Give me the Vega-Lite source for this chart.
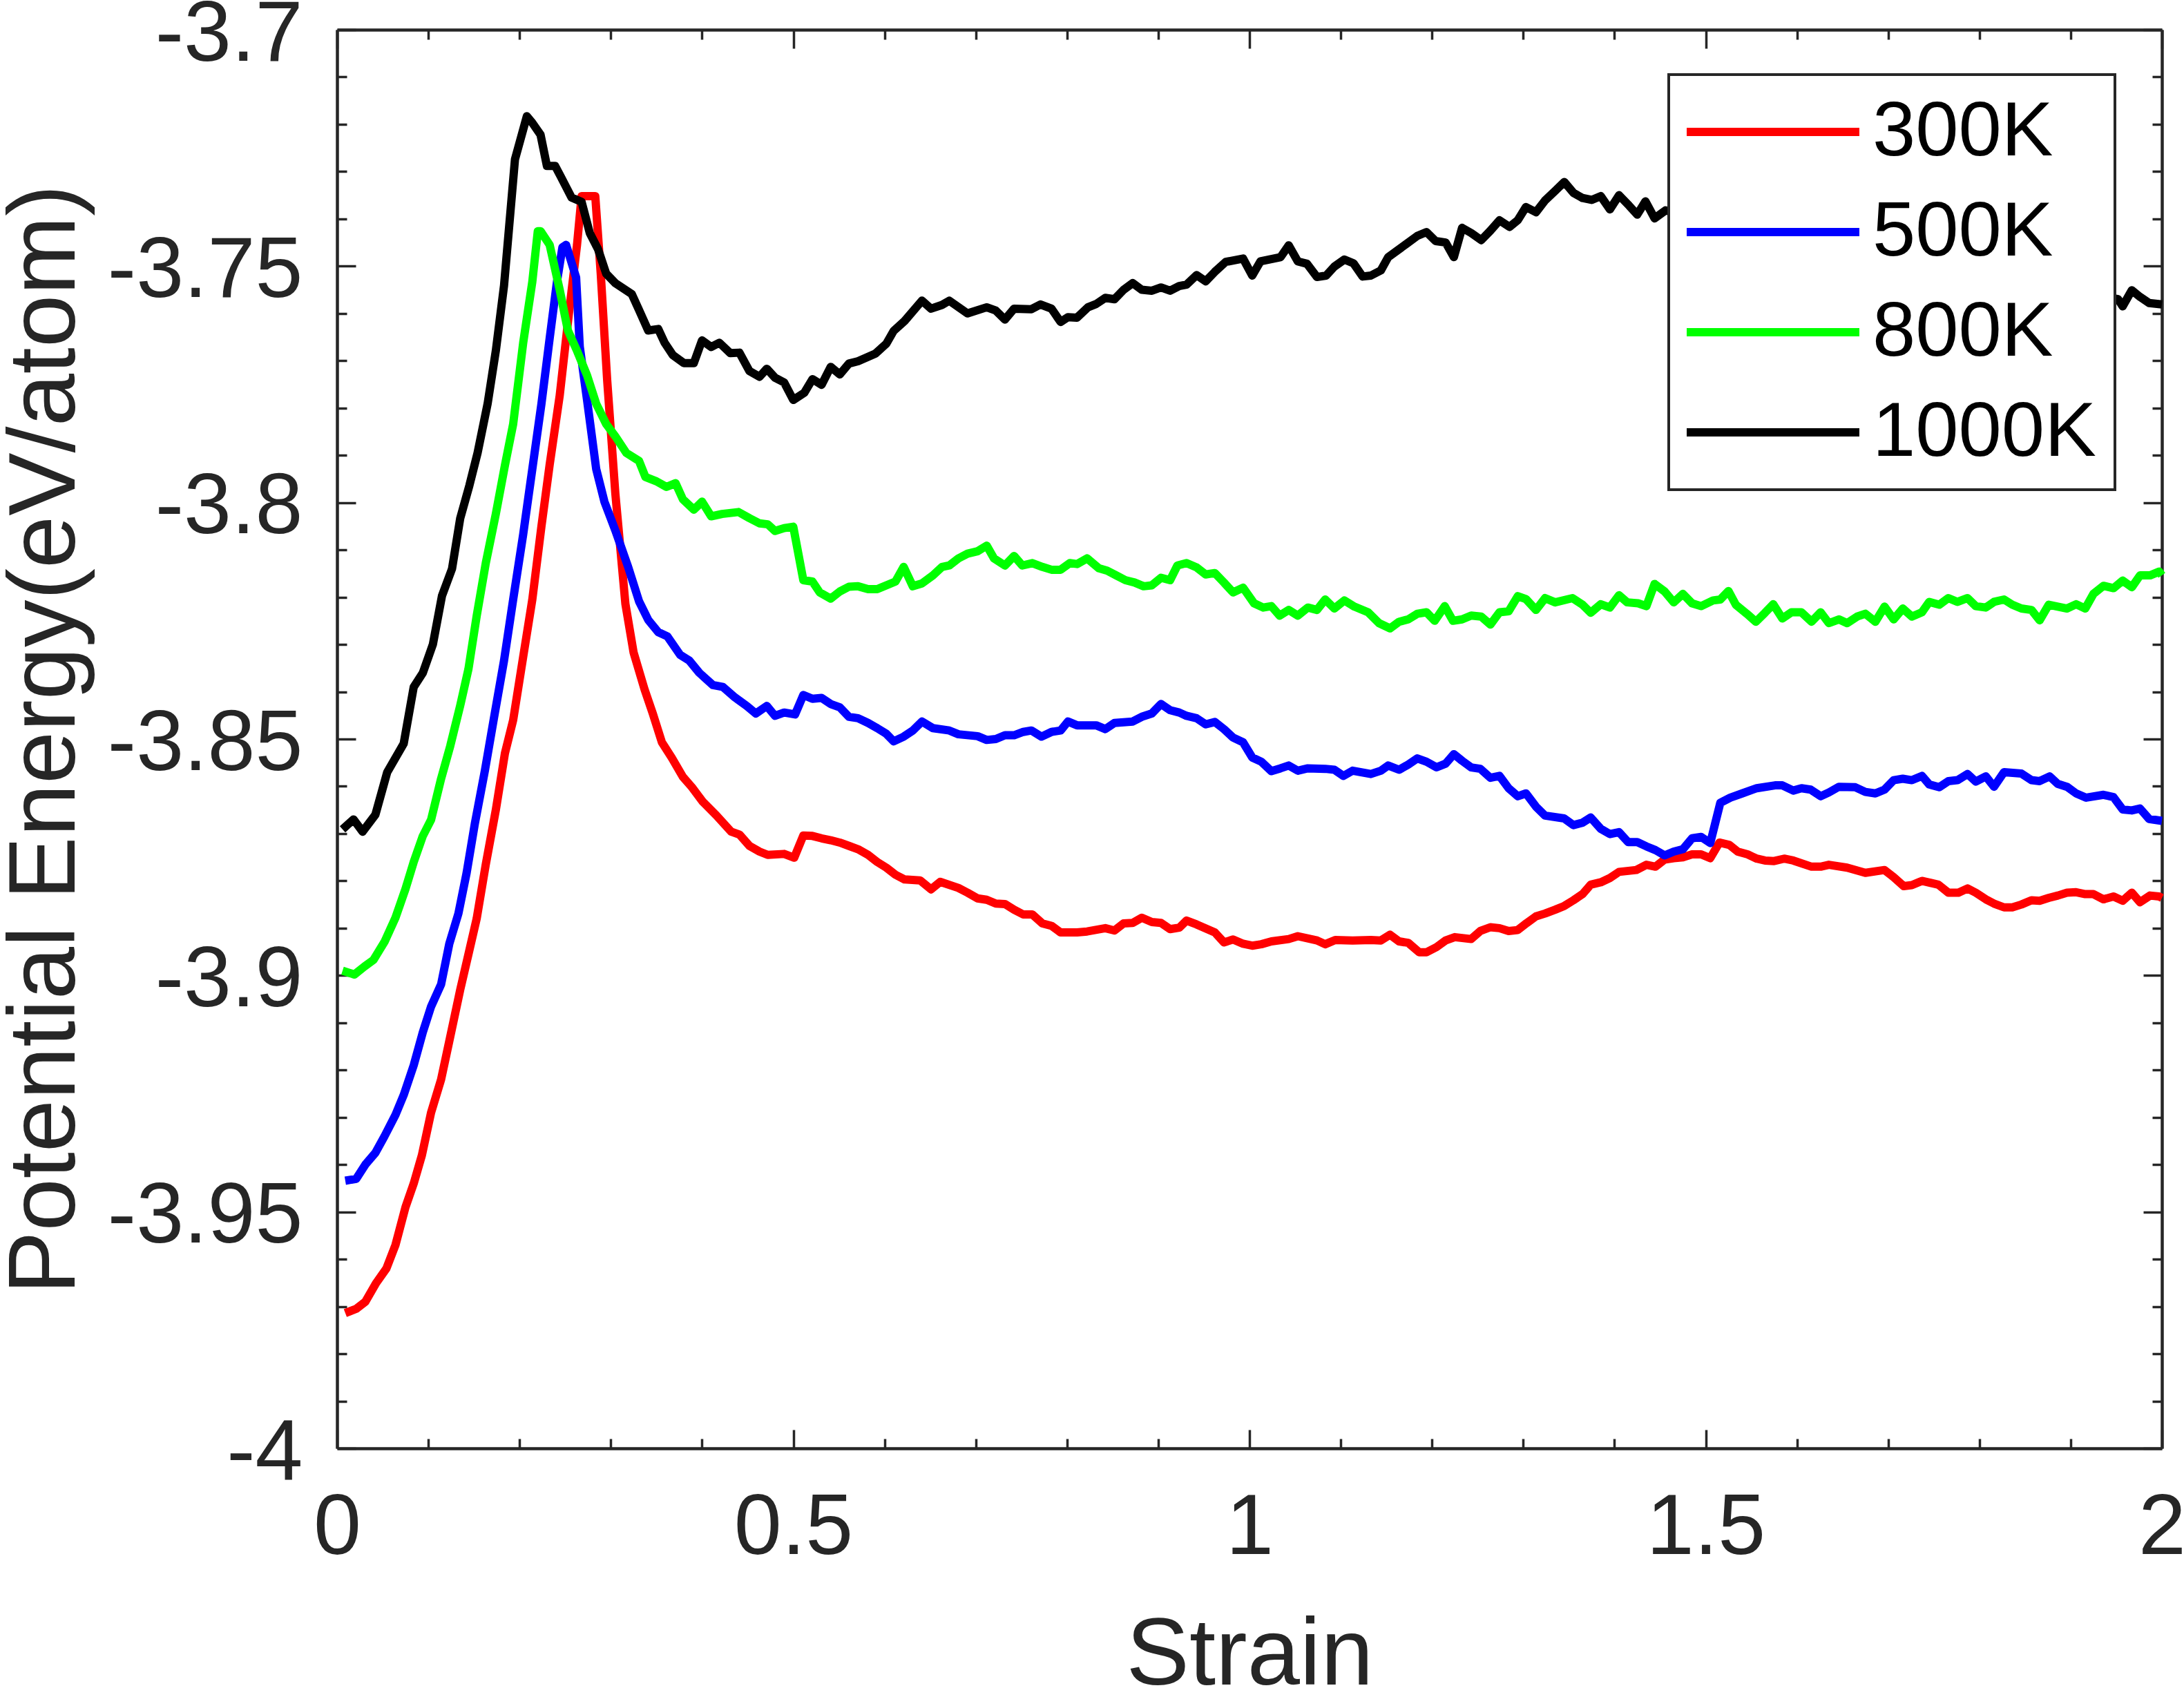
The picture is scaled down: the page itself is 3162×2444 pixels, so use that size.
{
  "$schema": "https://vega.github.io/schema/vega-lite/v6.json",
  "width": 2642,
  "height": 2054,
  "autosize": {"type": "none"},
  "padding": {"left": 488, "top": 43, "right": 32, "bottom": 347},
  "background": "white",
  "config": {
    "view": {"stroke": null},
    "font": "Liberation Sans",
    "axis": {
      "grid": false,
      "domainColor": "#262626",
      "domainWidth": 4.5,
      "tickColor": "#262626",
      "tickWidth": 3.5,
      "labelColor": "#262626",
      "titleColor": "#262626",
      "labelFont": "Liberation Sans",
      "titleFont": "Liberation Sans",
      "labelFontSize": 124,
      "titleFontSize": 137,
      "titleFontWeight": "normal",
      "labelFlush": false,
      "labelOverlap": false,
      "labelLimit": 1000,
      "titleLimit": 3000
    },
    "legend": {"strokeWidth": 4}
  },
  "data": {"values": [
    {"temp":"300K","strain":0.009,"energy":-3.9714},{"temp":"300K","strain":0.021,"energy":-3.9705},{"temp":"300K","strain":0.031,"energy":-3.969},{"temp":"300K","strain":0.043,"energy":-3.965},{"temp":"300K","strain":0.054,"energy":-3.962},{"temp":"300K","strain":0.064,"energy":-3.957},{"temp":"300K","strain":0.075,"energy":-3.949},{"temp":"300K","strain":0.084,"energy":-3.944},{"temp":"300K","strain":0.093,"energy":-3.938},{"temp":"300K","strain":0.103,"energy":-3.929},{"temp":"300K","strain":0.114,"energy":-3.922},{"temp":"300K","strain":0.124,"energy":-3.913},{"temp":"300K","strain":0.135,"energy":-3.903},{"temp":"300K","strain":0.144,"energy":-3.8955},{"temp":"300K","strain":0.153,"energy":-3.888},{"temp":"300K","strain":0.163,"energy":-3.8765},{"temp":"300K","strain":0.174,"energy":-3.865},{"temp":"300K","strain":0.184,"energy":-3.853},{"temp":"300K","strain":0.193,"energy":-3.846},{"temp":"300K","strain":0.204,"energy":-3.8326},{"temp":"300K","strain":0.214,"energy":-3.8205},{"temp":"300K","strain":0.224,"energy":-3.805},{"temp":"300K","strain":0.233,"energy":-3.792},{"temp":"300K","strain":0.244,"energy":-3.7774},{"temp":"300K","strain":0.254,"energy":-3.7602},{"temp":"300K","strain":0.263,"energy":-3.7455},{"temp":"300K","strain":0.268,"energy":-3.7352},{"temp":"300K","strain":0.283,"energy":-3.7352},{"temp":"300K","strain":0.289,"energy":-3.7516},{"temp":"300K","strain":0.296,"energy":-3.774},{"temp":"300K","strain":0.305,"energy":-3.7981},{"temp":"300K","strain":0.316,"energy":-3.8214},{"temp":"300K","strain":0.325,"energy":-3.8317},{"temp":"300K","strain":0.337,"energy":-3.8395},{"temp":"300K","strain":0.346,"energy":-3.8446},{"temp":"300K","strain":0.356,"energy":-3.8507},{"temp":"300K","strain":0.367,"energy":-3.854},{"temp":"300K","strain":0.379,"energy":-3.858},{"temp":"300K","strain":0.389,"energy":-3.8602},{"temp":"300K","strain":0.401,"energy":-3.8633},{"temp":"300K","strain":0.416,"energy":-3.8662},{"temp":"300K","strain":0.432,"energy":-3.8696},{"temp":"300K","strain":0.441,"energy":-3.8702},{"temp":"300K","strain":0.452,"energy":-3.8726},{"temp":"300K","strain":0.463,"energy":-3.8738},{"temp":"300K","strain":0.472,"energy":-3.8745},{"temp":"300K","strain":0.49,"energy":-3.8743},{"temp":"300K","strain":0.501,"energy":-3.8751},{"temp":"300K","strain":0.511,"energy":-3.8704},{"temp":"300K","strain":0.521,"energy":-3.8705},{"temp":"300K","strain":0.531,"energy":-3.871},{"temp":"300K","strain":0.541,"energy":-3.8714},{"temp":"300K","strain":0.551,"energy":-3.8719},{"temp":"300K","strain":0.561,"energy":-3.8726},{"temp":"300K","strain":0.571,"energy":-3.8733},{"temp":"300K","strain":0.582,"energy":-3.8745},{"temp":"300K","strain":0.592,"energy":-3.876},{"temp":"300K","strain":0.602,"energy":-3.8772},{"temp":"300K","strain":0.612,"energy":-3.8787},{"temp":"300K","strain":0.622,"energy":-3.8797},{"temp":"300K","strain":0.639,"energy":-3.8799},{"temp":"300K","strain":0.651,"energy":-3.8818},{"temp":"300K","strain":0.661,"energy":-3.8802},{"temp":"300K","strain":0.681,"energy":-3.8815},{"temp":"300K","strain":0.691,"energy":-3.8825},{"temp":"300K","strain":0.702,"energy":-3.8837},{"temp":"300K","strain":0.712,"energy":-3.884},{"temp":"300K","strain":0.722,"energy":-3.8848},{"temp":"300K","strain":0.732,"energy":-3.8849},{"temp":"300K","strain":0.742,"energy":-3.8861},{"temp":"300K","strain":0.752,"energy":-3.8871},{"temp":"300K","strain":0.762,"energy":-3.8871},{"temp":"300K","strain":0.773,"energy":-3.889},{"temp":"300K","strain":0.783,"energy":-3.8895},{"temp":"300K","strain":0.793,"energy":-3.8909},{"temp":"300K","strain":0.811,"energy":-3.8909},{"temp":"300K","strain":0.822,"energy":-3.8907},{"temp":"300K","strain":0.842,"energy":-3.89},{"temp":"300K","strain":0.852,"energy":-3.8905},{"temp":"300K","strain":0.862,"energy":-3.889},{"temp":"300K","strain":0.872,"energy":-3.8889},{"temp":"300K","strain":0.882,"energy":-3.8878},{"temp":"300K","strain":0.893,"energy":-3.8887},{"temp":"300K","strain":0.903,"energy":-3.8889},{"temp":"300K","strain":0.913,"energy":-3.8902},{"temp":"300K","strain":0.923,"energy":-3.8899},{"temp":"300K","strain":0.931,"energy":-3.8884},{"temp":"300K","strain":0.942,"energy":-3.8892},{"temp":"300K","strain":0.962,"energy":-3.8909},{"temp":"300K","strain":0.972,"energy":-3.893},{"temp":"300K","strain":0.982,"energy":-3.8924},{"temp":"300K","strain":0.993,"energy":-3.8933},{"temp":"300K","strain":1.003,"energy":-3.8937},{"temp":"300K","strain":1.013,"energy":-3.8934},{"temp":"300K","strain":1.024,"energy":-3.8928},{"temp":"300K","strain":1.043,"energy":-3.8923},{"temp":"300K","strain":1.053,"energy":-3.8917},{"temp":"300K","strain":1.074,"energy":-3.8926},{"temp":"300K","strain":1.083,"energy":-3.8934},{"temp":"300K","strain":1.094,"energy":-3.8925},{"temp":"300K","strain":1.113,"energy":-3.8926},{"temp":"300K","strain":1.133,"energy":-3.8925},{"temp":"300K","strain":1.144,"energy":-3.8926},{"temp":"300K","strain":1.154,"energy":-3.8914},{"temp":"300K","strain":1.164,"energy":-3.8928},{"temp":"300K","strain":1.174,"energy":-3.8931},{"temp":"300K","strain":1.186,"energy":-3.8951},{"temp":"300K","strain":1.194,"energy":-3.8951},{"temp":"300K","strain":1.205,"energy":-3.894},{"temp":"300K","strain":1.215,"energy":-3.8926},{"temp":"300K","strain":1.225,"energy":-3.8919},{"temp":"300K","strain":1.243,"energy":-3.8923},{"temp":"300K","strain":1.253,"energy":-3.8906},{"temp":"300K","strain":1.264,"energy":-3.8898},{"temp":"300K","strain":1.274,"energy":-3.89},{"temp":"300K","strain":1.284,"energy":-3.8906},{"temp":"300K","strain":1.294,"energy":-3.8904},{"temp":"300K","strain":1.304,"energy":-3.8889},{"temp":"300K","strain":1.314,"energy":-3.8875},{"temp":"300K","strain":1.324,"energy":-3.8869},{"temp":"300K","strain":1.335,"energy":-3.8861},{"temp":"300K","strain":1.345,"energy":-3.8853},{"temp":"300K","strain":1.355,"energy":-3.8841},{"temp":"300K","strain":1.365,"energy":-3.8828},{"temp":"300K","strain":1.374,"energy":-3.8808},{"temp":"300K","strain":1.385,"energy":-3.8803},{"temp":"300K","strain":1.395,"energy":-3.8794},{"temp":"300K","strain":1.405,"energy":-3.8781},{"temp":"300K","strain":1.424,"energy":-3.8777},{"temp":"300K","strain":1.435,"energy":-3.8766},{"temp":"300K","strain":1.445,"energy":-3.877},{"temp":"300K","strain":1.455,"energy":-3.8755},{"temp":"300K","strain":1.465,"energy":-3.8752},{"temp":"300K","strain":1.475,"energy":-3.875},{"temp":"300K","strain":1.485,"energy":-3.8744},{"temp":"300K","strain":1.495,"energy":-3.8744},{"temp":"300K","strain":1.505,"energy":-3.8752},{"temp":"300K","strain":1.515,"energy":-3.8719},{"temp":"300K","strain":1.526,"energy":-3.8724},{"temp":"300K","strain":1.535,"energy":-3.8738},{"temp":"300K","strain":1.546,"energy":-3.8744},{"temp":"300K","strain":1.556,"energy":-3.8753},{"temp":"300K","strain":1.565,"energy":-3.8757},{"temp":"300K","strain":1.575,"energy":-3.8758},{"temp":"300K","strain":1.586,"energy":-3.8753},{"temp":"300K","strain":1.596,"energy":-3.8757},{"temp":"300K","strain":1.616,"energy":-3.877},{"temp":"300K","strain":1.626,"energy":-3.877},{"temp":"300K","strain":1.635,"energy":-3.8766},{"temp":"300K","strain":1.655,"energy":-3.8772},{"temp":"300K","strain":1.675,"energy":-3.8783},{"temp":"300K","strain":1.696,"energy":-3.8777},{"temp":"300K","strain":1.706,"energy":-3.8792},{"temp":"300K","strain":1.717,"energy":-3.8811},{"temp":"300K","strain":1.726,"energy":-3.8809},{"temp":"300K","strain":1.737,"energy":-3.88},{"temp":"300K","strain":1.755,"energy":-3.8808},{"temp":"300K","strain":1.766,"energy":-3.8825},{"temp":"300K","strain":1.777,"energy":-3.8825},{"temp":"300K","strain":1.787,"energy":-3.8816},{"temp":"300K","strain":1.796,"energy":-3.8825},{"temp":"300K","strain":1.807,"energy":-3.8839},{"temp":"300K","strain":1.816,"energy":-3.8848},{"temp":"300K","strain":1.827,"energy":-3.8856},{"temp":"300K","strain":1.836,"energy":-3.8856},{"temp":"300K","strain":1.846,"energy":-3.885},{"temp":"300K","strain":1.857,"energy":-3.8841},{"temp":"300K","strain":1.866,"energy":-3.8842},{"temp":"300K","strain":1.876,"energy":-3.8836},{"temp":"300K","strain":1.886,"energy":-3.8831},{"temp":"300K","strain":1.896,"energy":-3.8825},{"temp":"300K","strain":1.906,"energy":-3.8824},{"temp":"300K","strain":1.916,"energy":-3.8828},{"temp":"300K","strain":1.925,"energy":-3.8828},{"temp":"300K","strain":1.936,"energy":-3.8839},{"temp":"300K","strain":1.947,"energy":-3.8833},{"temp":"300K","strain":1.957,"energy":-3.8842},{"temp":"300K","strain":1.967,"energy":-3.8825},{"temp":"300K","strain":1.976,"energy":-3.8845},{"temp":"300K","strain":1.987,"energy":-3.8831},{"temp":"300K","strain":1.997,"energy":-3.8833},{"temp":"300K","strain":2.0,"energy":-3.8836},
    {"temp":"500K","strain":0.009,"energy":-3.9434},{"temp":"500K","strain":0.021,"energy":-3.943},{"temp":"500K","strain":0.031,"energy":-3.94},{"temp":"500K","strain":0.042,"energy":-3.9375},{"temp":"500K","strain":0.052,"energy":-3.934},{"temp":"500K","strain":0.064,"energy":-3.9295},{"temp":"500K","strain":0.073,"energy":-3.9253},{"temp":"500K","strain":0.084,"energy":-3.919},{"temp":"500K","strain":0.094,"energy":-3.912},{"temp":"500K","strain":0.103,"energy":-3.9066},{"temp":"500K","strain":0.114,"energy":-3.9019},{"temp":"500K","strain":0.123,"energy":-3.8933},{"temp":"500K","strain":0.133,"energy":-3.8869},{"temp":"500K","strain":0.142,"energy":-3.8783},{"temp":"500K","strain":0.151,"energy":-3.8679},{"temp":"500K","strain":0.162,"energy":-3.8567},{"temp":"500K","strain":0.172,"energy":-3.8455},{"temp":"500K","strain":0.183,"energy":-3.8334},{"temp":"500K","strain":0.193,"energy":-3.8205},{"temp":"500K","strain":0.204,"energy":-3.8067},{"temp":"500K","strain":0.214,"energy":-3.7929},{"temp":"500K","strain":0.224,"energy":-3.7791},{"temp":"500K","strain":0.233,"energy":-3.7653},{"temp":"500K","strain":0.241,"energy":-3.7533},{"temp":"500K","strain":0.247,"energy":-3.746},{"temp":"500K","strain":0.251,"energy":-3.7455},{"temp":"500K","strain":0.262,"energy":-3.7524},{"temp":"500K","strain":0.266,"energy":-3.767},{"temp":"500K","strain":0.274,"energy":-3.7783},{"temp":"500K","strain":0.284,"energy":-3.7929},{"temp":"500K","strain":0.293,"energy":-3.7998},{"temp":"500K","strain":0.305,"energy":-3.8059},{"temp":"500K","strain":0.319,"energy":-3.8136},{"temp":"500K","strain":0.331,"energy":-3.8209},{"temp":"500K","strain":0.341,"energy":-3.8248},{"temp":"500K","strain":0.352,"energy":-3.8274},{"temp":"500K","strain":0.362,"energy":-3.8283},{"temp":"500K","strain":0.376,"energy":-3.8322},{"temp":"500K","strain":0.386,"energy":-3.8334},{"temp":"500K","strain":0.397,"energy":-3.836},{"temp":"500K","strain":0.412,"energy":-3.8386},{"temp":"500K","strain":0.423,"energy":-3.839},{"temp":"500K","strain":0.436,"energy":-3.8412},{"temp":"500K","strain":0.449,"energy":-3.843},{"temp":"500K","strain":0.459,"energy":-3.8446},{"temp":"500K","strain":0.471,"energy":-3.843},{"temp":"500K","strain":0.48,"energy":-3.8451},{"temp":"500K","strain":0.49,"energy":-3.8444},{"temp":"500K","strain":0.502,"energy":-3.8448},{"temp":"500K","strain":0.511,"energy":-3.8407},{"temp":"500K","strain":0.521,"energy":-3.8415},{"temp":"500K","strain":0.531,"energy":-3.8413},{"temp":"500K","strain":0.541,"energy":-3.8426},{"temp":"500K","strain":0.551,"energy":-3.8433},{"temp":"500K","strain":0.561,"energy":-3.8453},{"temp":"500K","strain":0.571,"energy":-3.8456},{"temp":"500K","strain":0.582,"energy":-3.8466},{"temp":"500K","strain":0.592,"energy":-3.8477},{"temp":"500K","strain":0.602,"energy":-3.8489},{"temp":"500K","strain":0.61,"energy":-3.8505},{"temp":"500K","strain":0.621,"energy":-3.8495},{"temp":"500K","strain":0.631,"energy":-3.8482},{"temp":"500K","strain":0.641,"energy":-3.8463},{"temp":"500K","strain":0.653,"energy":-3.8477},{"temp":"500K","strain":0.671,"energy":-3.8482},{"temp":"500K","strain":0.681,"energy":-3.849},{"temp":"500K","strain":0.702,"energy":-3.8494},{"temp":"500K","strain":0.712,"energy":-3.8502},{"temp":"500K","strain":0.722,"energy":-3.85},{"temp":"500K","strain":0.732,"energy":-3.8492},{"temp":"500K","strain":0.742,"energy":-3.8492},{"temp":"500K","strain":0.752,"energy":-3.8485},{"temp":"500K","strain":0.761,"energy":-3.8482},{"temp":"500K","strain":0.772,"energy":-3.8495},{"temp":"500K","strain":0.783,"energy":-3.8485},{"temp":"500K","strain":0.793,"energy":-3.8482},{"temp":"500K","strain":0.801,"energy":-3.8463},{"temp":"500K","strain":0.811,"energy":-3.8471},{"temp":"500K","strain":0.832,"energy":-3.8471},{"temp":"500K","strain":0.842,"energy":-3.8479},{"temp":"500K","strain":0.852,"energy":-3.8466},{"temp":"500K","strain":0.872,"energy":-3.8463},{"temp":"500K","strain":0.882,"energy":-3.8453},{"temp":"500K","strain":0.893,"energy":-3.8446},{"temp":"500K","strain":0.903,"energy":-3.8426},{"temp":"500K","strain":0.913,"energy":-3.8439},{"temp":"500K","strain":0.923,"energy":-3.8444},{"temp":"500K","strain":0.931,"energy":-3.8451},{"temp":"500K","strain":0.942,"energy":-3.8456},{"temp":"500K","strain":0.952,"energy":-3.8469},{"temp":"500K","strain":0.962,"energy":-3.8464},{"temp":"500K","strain":0.972,"energy":-3.8479},{"temp":"500K","strain":0.982,"energy":-3.8497},{"temp":"500K","strain":0.993,"energy":-3.8507},{"temp":"500K","strain":1.003,"energy":-3.8539},{"temp":"500K","strain":1.013,"energy":-3.8548},{"temp":"500K","strain":1.024,"energy":-3.8568},{"temp":"500K","strain":1.034,"energy":-3.8562},{"temp":"500K","strain":1.043,"energy":-3.8556},{"temp":"500K","strain":1.053,"energy":-3.8567},{"temp":"500K","strain":1.064,"energy":-3.8562},{"temp":"500K","strain":1.083,"energy":-3.8563},{"temp":"500K","strain":1.093,"energy":-3.8565},{"temp":"500K","strain":1.103,"energy":-3.8578},{"temp":"500K","strain":1.113,"energy":-3.8567},{"temp":"500K","strain":1.133,"energy":-3.8574},{"temp":"500K","strain":1.144,"energy":-3.8567},{"temp":"500K","strain":1.152,"energy":-3.8556},{"temp":"500K","strain":1.164,"energy":-3.8565},{"temp":"500K","strain":1.174,"energy":-3.8554},{"temp":"500K","strain":1.184,"energy":-3.8541},{"temp":"500K","strain":1.194,"energy":-3.8548},{"temp":"500K","strain":1.205,"energy":-3.856},{"temp":"500K","strain":1.215,"energy":-3.8552},{"temp":"500K","strain":1.224,"energy":-3.8532},{"temp":"500K","strain":1.233,"energy":-3.8546},{"temp":"500K","strain":1.243,"energy":-3.856},{"temp":"500K","strain":1.253,"energy":-3.8563},{"temp":"500K","strain":1.264,"energy":-3.8582},{"temp":"500K","strain":1.274,"energy":-3.8578},{"temp":"500K","strain":1.284,"energy":-3.8604},{"temp":"500K","strain":1.294,"energy":-3.8621},{"temp":"500K","strain":1.303,"energy":-3.8615},{"temp":"500K","strain":1.314,"energy":-3.8643},{"temp":"500K","strain":1.324,"energy":-3.8662},{"temp":"500K","strain":1.345,"energy":-3.8668},{"temp":"500K","strain":1.355,"energy":-3.8682},{"temp":"500K","strain":1.365,"energy":-3.8677},{"temp":"500K","strain":1.374,"energy":-3.8666},{"temp":"500K","strain":1.385,"energy":-3.869},{"temp":"500K","strain":1.395,"energy":-3.8701},{"temp":"500K","strain":1.405,"energy":-3.8697},{"temp":"500K","strain":1.415,"energy":-3.8718},{"temp":"500K","strain":1.425,"energy":-3.8718},{"temp":"500K","strain":1.435,"energy":-3.8727},{"temp":"500K","strain":1.445,"energy":-3.8735},{"temp":"500K","strain":1.455,"energy":-3.8746},{"temp":"500K","strain":1.465,"energy":-3.8738},{"temp":"500K","strain":1.475,"energy":-3.8733},{"temp":"500K","strain":1.485,"energy":-3.871},{"temp":"500K","strain":1.495,"energy":-3.8707},{"temp":"500K","strain":1.505,"energy":-3.872},{"temp":"500K","strain":1.516,"energy":-3.8635},{"temp":"500K","strain":1.527,"energy":-3.8624},{"temp":"500K","strain":1.54,"energy":-3.8615},{"temp":"500K","strain":1.556,"energy":-3.8604},{"temp":"500K","strain":1.576,"energy":-3.8598},{"temp":"500K","strain":1.584,"energy":-3.8598},{"temp":"500K","strain":1.596,"energy":-3.8609},{"temp":"500K","strain":1.605,"energy":-3.8604},{"temp":"500K","strain":1.615,"energy":-3.8607},{"temp":"500K","strain":1.626,"energy":-3.8621},{"temp":"500K","strain":1.635,"energy":-3.8613},{"temp":"500K","strain":1.646,"energy":-3.8601},{"temp":"500K","strain":1.664,"energy":-3.8602},{"temp":"500K","strain":1.675,"energy":-3.8612},{"temp":"500K","strain":1.686,"energy":-3.8615},{"temp":"500K","strain":1.696,"energy":-3.8607},{"temp":"500K","strain":1.706,"energy":-3.8587},{"temp":"500K","strain":1.716,"energy":-3.8584},{"temp":"500K","strain":1.726,"energy":-3.8587},{"temp":"500K","strain":1.737,"energy":-3.8578},{"temp":"500K","strain":1.745,"energy":-3.8596},{"temp":"500K","strain":1.756,"energy":-3.8602},{"temp":"500K","strain":1.766,"energy":-3.8589},{"temp":"500K","strain":1.776,"energy":-3.8587},{"temp":"500K","strain":1.787,"energy":-3.8574},{"temp":"500K","strain":1.796,"energy":-3.859},{"temp":"500K","strain":1.807,"energy":-3.8579},{"temp":"500K","strain":1.816,"energy":-3.8601},{"temp":"500K","strain":1.827,"energy":-3.857},{"temp":"500K","strain":1.846,"energy":-3.8573},{"temp":"500K","strain":1.857,"energy":-3.8587},{"temp":"500K","strain":1.866,"energy":-3.8589},{"temp":"500K","strain":1.877,"energy":-3.8579},{"temp":"500K","strain":1.886,"energy":-3.8595},{"temp":"500K","strain":1.896,"energy":-3.8601},{"temp":"500K","strain":1.906,"energy":-3.8615},{"temp":"500K","strain":1.917,"energy":-3.8624},{"temp":"500K","strain":1.936,"energy":-3.8618},{"temp":"500K","strain":1.947,"energy":-3.8623},{"temp":"500K","strain":1.957,"energy":-3.8649},{"temp":"500K","strain":1.967,"energy":-3.8651},{"temp":"500K","strain":1.976,"energy":-3.8647},{"temp":"500K","strain":1.986,"energy":-3.8669},{"temp":"500K","strain":2.0,"energy":-3.8673},
    {"temp":"800K","strain":0.006,"energy":-3.899},{"temp":"800K","strain":0.019,"energy":-3.8998},{"temp":"800K","strain":0.03,"energy":-3.8981},{"temp":"800K","strain":0.04,"energy":-3.8967},{"temp":"800K","strain":0.052,"energy":-3.8929},{"temp":"800K","strain":0.064,"energy":-3.8878},{"temp":"800K","strain":0.075,"energy":-3.8817},{"temp":"800K","strain":0.084,"energy":-3.876},{"temp":"800K","strain":0.094,"energy":-3.8705},{"temp":"800K","strain":0.103,"energy":-3.8671},{"temp":"800K","strain":0.114,"energy":-3.8584},{"temp":"800K","strain":0.124,"energy":-3.8515},{"temp":"800K","strain":0.135,"energy":-3.8429},{"temp":"800K","strain":0.144,"energy":-3.8352},{"temp":"800K","strain":0.153,"energy":-3.824},{"temp":"800K","strain":0.163,"energy":-3.8128},{"temp":"800K","strain":0.174,"energy":-3.8024},{"temp":"800K","strain":0.184,"energy":-3.7921},{"temp":"800K","strain":0.193,"energy":-3.7834},{"temp":"800K","strain":0.204,"energy":-3.7662},{"temp":"800K","strain":0.214,"energy":-3.7533},{"temp":"800K","strain":0.22,"energy":-3.7426},{"temp":"800K","strain":0.223,"energy":-3.7426},{"temp":"800K","strain":0.233,"energy":-3.7455},{"temp":"800K","strain":0.244,"energy":-3.755},{"temp":"800K","strain":0.253,"energy":-3.7636},{"temp":"800K","strain":0.263,"energy":-3.7679},{"temp":"800K","strain":0.274,"energy":-3.7731},{"temp":"800K","strain":0.284,"energy":-3.7791},{"temp":"800K","strain":0.295,"energy":-3.7834},{"temp":"800K","strain":0.305,"energy":-3.786},{"temp":"800K","strain":0.317,"energy":-3.7895},{"temp":"800K","strain":0.331,"energy":-3.7912},{"temp":"800K","strain":0.338,"energy":-3.7946},{"temp":"800K","strain":0.35,"energy":-3.7955},{"temp":"800K","strain":0.361,"energy":-3.7967},{"temp":"800K","strain":0.371,"energy":-3.7959},{"temp":"800K","strain":0.379,"energy":-3.7993},{"temp":"800K","strain":0.391,"energy":-3.8015},{"temp":"800K","strain":0.4,"energy":-3.7998},{"temp":"800K","strain":0.41,"energy":-3.8029},{"temp":"800K","strain":0.422,"energy":-3.8024},{"temp":"800K","strain":0.44,"energy":-3.802},{"temp":"800K","strain":0.452,"energy":-3.8033},{"temp":"800K","strain":0.463,"energy":-3.8044},{"temp":"800K","strain":0.472,"energy":-3.8046},{"temp":"800K","strain":0.48,"energy":-3.806},{"temp":"800K","strain":0.49,"energy":-3.8054},{"temp":"800K","strain":0.5,"energy":-3.8051},{"temp":"800K","strain":0.511,"energy":-3.8164},{"temp":"800K","strain":0.521,"energy":-3.8167},{"temp":"800K","strain":0.529,"energy":-3.819},{"temp":"800K","strain":0.541,"energy":-3.8203},{"temp":"800K","strain":0.551,"energy":-3.8188},{"temp":"800K","strain":0.561,"energy":-3.8178},{"temp":"800K","strain":0.571,"energy":-3.8177},{"temp":"800K","strain":0.582,"energy":-3.8183},{"temp":"800K","strain":0.592,"energy":-3.8183},{"temp":"800K","strain":0.602,"energy":-3.8175},{"temp":"800K","strain":0.612,"energy":-3.8167},{"temp":"800K","strain":0.621,"energy":-3.8136},{"temp":"800K","strain":0.631,"energy":-3.8177},{"temp":"800K","strain":0.641,"energy":-3.8171},{"temp":"800K","strain":0.653,"energy":-3.8154},{"temp":"800K","strain":0.663,"energy":-3.8136},{"temp":"800K","strain":0.671,"energy":-3.8133},{"temp":"800K","strain":0.681,"energy":-3.8118},{"temp":"800K","strain":0.691,"energy":-3.8108},{"temp":"800K","strain":0.702,"energy":-3.8103},{"temp":"800K","strain":0.712,"energy":-3.8091},{"temp":"800K","strain":0.72,"energy":-3.8118},{"temp":"800K","strain":0.732,"energy":-3.8133},{"temp":"800K","strain":0.742,"energy":-3.8113},{"temp":"800K","strain":0.751,"energy":-3.8133},{"temp":"800K","strain":0.762,"energy":-3.8128},{"temp":"800K","strain":0.773,"energy":-3.8136},{"temp":"800K","strain":0.783,"energy":-3.8142},{"temp":"800K","strain":0.793,"energy":-3.8142},{"temp":"800K","strain":0.803,"energy":-3.8128},{"temp":"800K","strain":0.811,"energy":-3.813},{"temp":"800K","strain":0.822,"energy":-3.8118},{"temp":"800K","strain":0.835,"energy":-3.8139},{"temp":"800K","strain":0.844,"energy":-3.8144},{"temp":"800K","strain":0.854,"energy":-3.8154},{"temp":"800K","strain":0.864,"energy":-3.8164},{"temp":"800K","strain":0.874,"energy":-3.8169},{"temp":"800K","strain":0.884,"energy":-3.8177},{"temp":"800K","strain":0.893,"energy":-3.8175},{"temp":"800K","strain":0.903,"energy":-3.8159},{"temp":"800K","strain":0.913,"energy":-3.8164},{"temp":"800K","strain":0.921,"energy":-3.8133},{"temp":"800K","strain":0.931,"energy":-3.8128},{"temp":"800K","strain":0.942,"energy":-3.8137},{"temp":"800K","strain":0.952,"energy":-3.8152},{"temp":"800K","strain":0.962,"energy":-3.8149},{"temp":"800K","strain":0.972,"energy":-3.8169},{"temp":"800K","strain":0.982,"energy":-3.819},{"temp":"800K","strain":0.993,"energy":-3.818},{"temp":"800K","strain":1.005,"energy":-3.8213},{"temp":"800K","strain":1.015,"energy":-3.8222},{"temp":"800K","strain":1.024,"energy":-3.8219},{"temp":"800K","strain":1.033,"energy":-3.8239},{"temp":"800K","strain":1.043,"energy":-3.8227},{"temp":"800K","strain":1.053,"energy":-3.8239},{"temp":"800K","strain":1.064,"energy":-3.8222},{"temp":"800K","strain":1.074,"energy":-3.8227},{"temp":"800K","strain":1.083,"energy":-3.8205},{"temp":"800K","strain":1.093,"energy":-3.8224},{"temp":"800K","strain":1.104,"energy":-3.8207},{"temp":"800K","strain":1.115,"energy":-3.822},{"temp":"800K","strain":1.13,"energy":-3.8232},{"temp":"800K","strain":1.142,"energy":-3.8255},{"temp":"800K","strain":1.154,"energy":-3.8266},{"temp":"800K","strain":1.164,"energy":-3.8252},{"temp":"800K","strain":1.174,"energy":-3.8247},{"temp":"800K","strain":1.184,"energy":-3.8235},{"temp":"800K","strain":1.194,"energy":-3.8232},{"temp":"800K","strain":1.203,"energy":-3.825},{"temp":"800K","strain":1.214,"energy":-3.8219},{"temp":"800K","strain":1.223,"energy":-3.825},{"temp":"800K","strain":1.233,"energy":-3.8247},{"temp":"800K","strain":1.243,"energy":-3.8239},{"temp":"800K","strain":1.254,"energy":-3.8241},{"temp":"800K","strain":1.264,"energy":-3.8258},{"temp":"800K","strain":1.274,"energy":-3.8232},{"temp":"800K","strain":1.284,"energy":-3.823},{"temp":"800K","strain":1.294,"energy":-3.8198},{"temp":"800K","strain":1.303,"energy":-3.8204},{"temp":"800K","strain":1.314,"energy":-3.8227},{"temp":"800K","strain":1.324,"energy":-3.8202},{"temp":"800K","strain":1.335,"energy":-3.8211},{"temp":"800K","strain":1.354,"energy":-3.8202},{"temp":"800K","strain":1.365,"energy":-3.8216},{"temp":"800K","strain":1.374,"energy":-3.8233},{"temp":"800K","strain":1.385,"energy":-3.8215},{"temp":"800K","strain":1.395,"energy":-3.8222},{"temp":"800K","strain":1.405,"energy":-3.8196},{"temp":"800K","strain":1.414,"energy":-3.8211},{"temp":"800K","strain":1.426,"energy":-3.8213},{"temp":"800K","strain":1.435,"energy":-3.8219},{"temp":"800K","strain":1.444,"energy":-3.8172},{"temp":"800K","strain":1.455,"energy":-3.8188},{"temp":"800K","strain":1.465,"energy":-3.8211},{"temp":"800K","strain":1.475,"energy":-3.8193},{"temp":"800K","strain":1.485,"energy":-3.8213},{"temp":"800K","strain":1.495,"energy":-3.8219},{"temp":"800K","strain":1.508,"energy":-3.8207},{"temp":"800K","strain":1.516,"energy":-3.8205},{"temp":"800K","strain":1.525,"energy":-3.8187},{"temp":"800K","strain":1.533,"energy":-3.8216},{"temp":"800K","strain":1.545,"energy":-3.8235},{"temp":"800K","strain":1.555,"energy":-3.8252},{"temp":"800K","strain":1.565,"energy":-3.8233},{"temp":"800K","strain":1.574,"energy":-3.8215},{"temp":"800K","strain":1.584,"energy":-3.8245},{"temp":"800K","strain":1.594,"energy":-3.8232},{"temp":"800K","strain":1.605,"energy":-3.8232},{"temp":"800K","strain":1.616,"energy":-3.8252},{"temp":"800K","strain":1.626,"energy":-3.8232},{"temp":"800K","strain":1.635,"energy":-3.8255},{"temp":"800K","strain":1.646,"energy":-3.8247},{"temp":"800K","strain":1.655,"energy":-3.8255},{"temp":"800K","strain":1.666,"energy":-3.8241},{"temp":"800K","strain":1.675,"energy":-3.8235},{"temp":"800K","strain":1.686,"energy":-3.8252},{"temp":"800K","strain":1.696,"energy":-3.822},{"temp":"800K","strain":1.706,"energy":-3.8247},{"temp":"800K","strain":1.716,"energy":-3.8224},{"temp":"800K","strain":1.726,"energy":-3.8241},{"temp":"800K","strain":1.737,"energy":-3.8232},{"temp":"800K","strain":1.745,"energy":-3.821},{"temp":"800K","strain":1.756,"energy":-3.8216},{"temp":"800K","strain":1.766,"energy":-3.8202},{"temp":"800K","strain":1.776,"energy":-3.821},{"temp":"800K","strain":1.787,"energy":-3.8202},{"temp":"800K","strain":1.796,"energy":-3.8219},{"temp":"800K","strain":1.807,"energy":-3.8222},{"temp":"800K","strain":1.816,"energy":-3.821},{"temp":"800K","strain":1.827,"energy":-3.8205},{"temp":"800K","strain":1.836,"energy":-3.8216},{"temp":"800K","strain":1.846,"energy":-3.8224},{"temp":"800K","strain":1.857,"energy":-3.8227},{"temp":"800K","strain":1.866,"energy":-3.8249},{"temp":"800K","strain":1.876,"energy":-3.8216},{"temp":"800K","strain":1.896,"energy":-3.8224},{"temp":"800K","strain":1.906,"energy":-3.8215},{"temp":"800K","strain":1.916,"energy":-3.8224},{"temp":"800K","strain":1.925,"energy":-3.8193},{"temp":"800K","strain":1.936,"energy":-3.8176},{"temp":"800K","strain":1.947,"energy":-3.8181},{"temp":"800K","strain":1.957,"energy":-3.8165},{"temp":"800K","strain":1.967,"energy":-3.8179},{"temp":"800K","strain":1.976,"energy":-3.8154},{"temp":"800K","strain":1.987,"energy":-3.8154},{"temp":"800K","strain":1.997,"energy":-3.8146},{"temp":"800K","strain":2.0,"energy":-3.8154},
    {"temp":"1000K","strain":0.006,"energy":-3.8691},{"temp":"1000K","strain":0.018,"energy":-3.867},{"temp":"1000K","strain":0.028,"energy":-3.8696},{"temp":"1000K","strain":0.042,"energy":-3.866},{"temp":"1000K","strain":0.055,"energy":-3.857},{"temp":"1000K","strain":0.073,"energy":-3.851},{"temp":"1000K","strain":0.084,"energy":-3.839},{"temp":"1000K","strain":0.094,"energy":-3.836},{"temp":"1000K","strain":0.105,"energy":-3.83},{"temp":"1000K","strain":0.115,"energy":-3.8197},{"temp":"1000K","strain":0.126,"energy":-3.814},{"temp":"1000K","strain":0.135,"energy":-3.8033},{"temp":"1000K","strain":0.145,"energy":-3.7964},{"temp":"1000K","strain":0.154,"energy":-3.7895},{"temp":"1000K","strain":0.165,"energy":-3.7791},{"temp":"1000K","strain":0.174,"energy":-3.7679},{"temp":"1000K","strain":0.183,"energy":-3.7541},{"temp":"1000K","strain":0.195,"energy":-3.7274},{"temp":"1000K","strain":0.208,"energy":-3.7183},{"temp":"1000K","strain":0.214,"energy":-3.7197},{"temp":"1000K","strain":0.223,"energy":-3.7222},{"temp":"1000K","strain":0.23,"energy":-3.7288},{"temp":"1000K","strain":0.239,"energy":-3.7288},{"temp":"1000K","strain":0.245,"energy":-3.731},{"temp":"1000K","strain":0.257,"energy":-3.7355},{"temp":"1000K","strain":0.268,"energy":-3.7364},{"temp":"1000K","strain":0.277,"energy":-3.743},{"temp":"1000K","strain":0.286,"energy":-3.7464},{"temp":"1000K","strain":0.295,"energy":-3.7516},{"temp":"1000K","strain":0.305,"energy":-3.7536},{"temp":"1000K","strain":0.323,"energy":-3.7559},{"temp":"1000K","strain":0.331,"energy":-3.7593},{"temp":"1000K","strain":0.341,"energy":-3.7636},{"temp":"1000K","strain":0.352,"energy":-3.7633},{"temp":"1000K","strain":0.359,"energy":-3.7662},{"temp":"1000K","strain":0.368,"energy":-3.7688},{"temp":"1000K","strain":0.38,"energy":-3.7705},{"temp":"1000K","strain":0.391,"energy":-3.7705},{"temp":"1000K","strain":0.4,"energy":-3.7657},{"temp":"1000K","strain":0.41,"energy":-3.7671},{"temp":"1000K","strain":0.419,"energy":-3.7662},{"temp":"1000K","strain":0.431,"energy":-3.7684},{"temp":"1000K","strain":0.441,"energy":-3.7683},{"temp":"1000K","strain":0.452,"energy":-3.7722},{"temp":"1000K","strain":0.463,"energy":-3.7734},{"temp":"1000K","strain":0.471,"energy":-3.7717},{"temp":"1000K","strain":0.48,"energy":-3.7736},{"temp":"1000K","strain":0.49,"energy":-3.7746},{"temp":"1000K","strain":0.5,"energy":-3.7783},{"temp":"1000K","strain":0.512,"energy":-3.7768},{"temp":"1000K","strain":0.521,"energy":-3.7739},{"temp":"1000K","strain":0.531,"energy":-3.7751},{"temp":"1000K","strain":0.541,"energy":-3.7713},{"temp":"1000K","strain":0.551,"energy":-3.7729},{"temp":"1000K","strain":0.561,"energy":-3.7706},{"temp":"1000K","strain":0.571,"energy":-3.7701},{"temp":"1000K","strain":0.59,"energy":-3.7685},{"temp":"1000K","strain":0.602,"energy":-3.7664},{"temp":"1000K","strain":0.61,"energy":-3.7637},{"temp":"1000K","strain":0.622,"energy":-3.7616},{"temp":"1000K","strain":0.641,"energy":-3.7573},{"temp":"1000K","strain":0.651,"energy":-3.759},{"temp":"1000K","strain":0.663,"energy":-3.7582},{"temp":"1000K","strain":0.671,"energy":-3.7573},{"temp":"1000K","strain":0.691,"energy":-3.76},{"temp":"1000K","strain":0.712,"energy":-3.7587},{"temp":"1000K","strain":0.722,"energy":-3.7594},{"temp":"1000K","strain":0.732,"energy":-3.7613},{"temp":"1000K","strain":0.742,"energy":-3.759},{"temp":"1000K","strain":0.761,"energy":-3.7591},{"temp":"1000K","strain":0.771,"energy":-3.7581},{"temp":"1000K","strain":0.783,"energy":-3.759},{"temp":"1000K","strain":0.793,"energy":-3.7618},{"temp":"1000K","strain":0.801,"energy":-3.7608},{"temp":"1000K","strain":0.811,"energy":-3.7609},{"temp":"1000K","strain":0.823,"energy":-3.7587},{"temp":"1000K","strain":0.832,"energy":-3.758},{"temp":"1000K","strain":0.842,"energy":-3.7567},{"temp":"1000K","strain":0.852,"energy":-3.757},{"temp":"1000K","strain":0.862,"energy":-3.755},{"temp":"1000K","strain":0.872,"energy":-3.7536},{"temp":"1000K","strain":0.882,"energy":-3.755},{"temp":"1000K","strain":0.893,"energy":-3.7552},{"temp":"1000K","strain":0.903,"energy":-3.7545},{"temp":"1000K","strain":0.913,"energy":-3.7552},{"temp":"1000K","strain":0.923,"energy":-3.7542},{"temp":"1000K","strain":0.931,"energy":-3.7539},{"temp":"1000K","strain":0.942,"energy":-3.7519},{"temp":"1000K","strain":0.952,"energy":-3.7532},{"temp":"1000K","strain":0.962,"energy":-3.7512},{"temp":"1000K","strain":0.974,"energy":-3.7491},{"temp":"1000K","strain":0.993,"energy":-3.7484},{"temp":"1000K","strain":1.003,"energy":-3.752},{"temp":"1000K","strain":1.012,"energy":-3.749},{"temp":"1000K","strain":1.034,"energy":-3.7481},{"temp":"1000K","strain":1.043,"energy":-3.7456},{"temp":"1000K","strain":1.053,"energy":-3.749},{"temp":"1000K","strain":1.063,"energy":-3.7495},{"temp":"1000K","strain":1.074,"energy":-3.7523},{"temp":"1000K","strain":1.084,"energy":-3.752},{"temp":"1000K","strain":1.093,"energy":-3.7501},{"temp":"1000K","strain":1.104,"energy":-3.7486},{"temp":"1000K","strain":1.114,"energy":-3.7494},{"temp":"1000K","strain":1.124,"energy":-3.7522},{"temp":"1000K","strain":1.133,"energy":-3.752},{"temp":"1000K","strain":1.144,"energy":-3.7509},{"temp":"1000K","strain":1.152,"energy":-3.7481},{"temp":"1000K","strain":1.172,"energy":-3.7453},{"temp":"1000K","strain":1.184,"energy":-3.7436},{"temp":"1000K","strain":1.194,"energy":-3.7428},{"temp":"1000K","strain":1.204,"energy":-3.7447},{"temp":"1000K","strain":1.215,"energy":-3.745},{"temp":"1000K","strain":1.224,"energy":-3.7481},{"temp":"1000K","strain":1.233,"energy":-3.7419},{"temp":"1000K","strain":1.243,"energy":-3.743},{"temp":"1000K","strain":1.254,"energy":-3.7445},{"temp":"1000K","strain":1.264,"energy":-3.7425},{"temp":"1000K","strain":1.274,"energy":-3.7403},{"temp":"1000K","strain":1.285,"energy":-3.7417},{"temp":"1000K","strain":1.294,"energy":-3.7403},{"temp":"1000K","strain":1.303,"energy":-3.7375},{"temp":"1000K","strain":1.314,"energy":-3.7386},{"temp":"1000K","strain":1.324,"energy":-3.7361},{"temp":"1000K","strain":1.335,"energy":-3.7341},{"temp":"1000K","strain":1.345,"energy":-3.7322},{"temp":"1000K","strain":1.355,"energy":-3.7345},{"temp":"1000K","strain":1.365,"energy":-3.7356},{"temp":"1000K","strain":1.375,"energy":-3.736},{"temp":"1000K","strain":1.385,"energy":-3.7352},{"temp":"1000K","strain":1.395,"energy":-3.738},{"temp":"1000K","strain":1.405,"energy":-3.735},{"temp":"1000K","strain":1.416,"energy":-3.7372},{"temp":"1000K","strain":1.425,"energy":-3.7391},{"temp":"1000K","strain":1.434,"energy":-3.7363},{"temp":"1000K","strain":1.444,"energy":-3.7399},{"temp":"1000K","strain":1.456,"energy":-3.7382},{"temp":"1000K","strain":1.952,"energy":-3.757},{"temp":"1000K","strain":1.957,"energy":-3.7585},{"temp":"1000K","strain":1.967,"energy":-3.7551},{"temp":"1000K","strain":1.976,"energy":-3.7565},{"temp":"1000K","strain":1.986,"energy":-3.7578},{"temp":"1000K","strain":2.0,"energy":-3.7581}
  ]},
  "layer": [
    {
      "mark": {"type": "line", "strokeWidth": 12, "strokeJoin": "round"},
      "encoding": {
        "x": {
          "field": "strain", "type": "quantitative",
          "scale": {"domain": [0, 2], "nice": false, "zero": false},
          "axis": {
            "orient": "bottom", "values": [0, 0.5, 1, 1.5, 2],
            "tickSize": -27, "labelPadding": 81, "labelExpr": "'' + datum.value",
            "title": "Strain", "titlePadding": 56
          }
        },
        "y": {
          "field": "energy", "type": "quantitative",
          "scale": {"domain": [-4, -3.7], "nice": false, "zero": false},
          "axis": {
            "orient": "left", "values": [-4, -3.95, -3.9, -3.85, -3.8, -3.75, -3.7],
            "tickSize": -27, "labelPadding": 77, "labelOffset": 7, "labelExpr": "'' + datum.value",
            "title": "Potential Energy(eV/atom)", "titlePadding": 152
          }
        },
        "color": {
          "field": "temp", "type": "nominal",
          "scale": {"domain": ["300K", "500K", "800K", "1000K"], "range": ["#ff0000", "#0000ff", "#00ff00", "#000000"]},
          "legend": {
            "title": null, "orient": "none", "legendX": 1928, "legendY": 65,
            "direction": "vertical",
            "symbolType": "M-2.28,0H7.72", "symbolSize": 2500, "symbolStrokeWidth": 12,
            "labelFont": "Liberation Sans", "labelFontSize": 112, "labelColor": "#000000",
            "labelLimit": 1000, "labelOffset": 156, "rowPadding": 33, "padding": 27,
            "fillColor": "#ffffff", "strokeColor": "#262626", "zindex": 2
          }
        }
      }
    },
    {
      "mark": {"type": "line", "strokeOpacity": 0},
      "encoding": {
        "x": {"field": "strain", "type": "quantitative",
          "axis": {"orient": "bottom", "values": [0.1,0.2,0.3,0.4,0.6,0.7,0.8,0.9,1.1,1.2,1.3,1.4,1.6,1.7,1.8,1.9], "tickSize": -14, "labels": false, "domain": false, "title": null}},
        "y": {"field": "energy", "type": "quantitative",
          "axis": {"orient": "left", "values": [-3.99,-3.98,-3.97,-3.96,-3.94,-3.93,-3.92,-3.91,-3.89,-3.88,-3.87,-3.86,-3.84,-3.83,-3.82,-3.81,-3.79,-3.78,-3.77,-3.76,-3.74,-3.73,-3.72,-3.71], "tickSize": -14, "labels": false, "domain": false, "title": null}}
      }
    },
    {
      "mark": {"type": "line", "strokeOpacity": 0},
      "encoding": {
        "x": {"field": "strain", "type": "quantitative",
          "axis": {"orient": "top", "values": [0, 0.5, 1, 1.5, 2], "tickSize": -27, "labels": false, "title": null}},
        "y": {"field": "energy", "type": "quantitative",
          "axis": {"orient": "right", "values": [-4, -3.95, -3.9, -3.85, -3.8, -3.75, -3.7], "tickSize": -27, "labels": false, "title": null}}
      }
    },
    {
      "mark": {"type": "line", "strokeOpacity": 0},
      "encoding": {
        "x": {"field": "strain", "type": "quantitative",
          "axis": {"orient": "top", "values": [0.1,0.2,0.3,0.4,0.6,0.7,0.8,0.9,1.1,1.2,1.3,1.4,1.6,1.7,1.8,1.9], "tickSize": -14, "labels": false, "domain": false, "title": null}},
        "y": {"field": "energy", "type": "quantitative",
          "axis": {"orient": "right", "values": [-3.99,-3.98,-3.97,-3.96,-3.94,-3.93,-3.92,-3.91,-3.89,-3.88,-3.87,-3.86,-3.84,-3.83,-3.82,-3.81,-3.79,-3.78,-3.77,-3.76,-3.74,-3.73,-3.72,-3.71], "tickSize": -14, "labels": false, "domain": false, "title": null}}
      }
    }
  ],
  "resolve": {"axis": {"x": "independent", "y": "independent"}}
}
